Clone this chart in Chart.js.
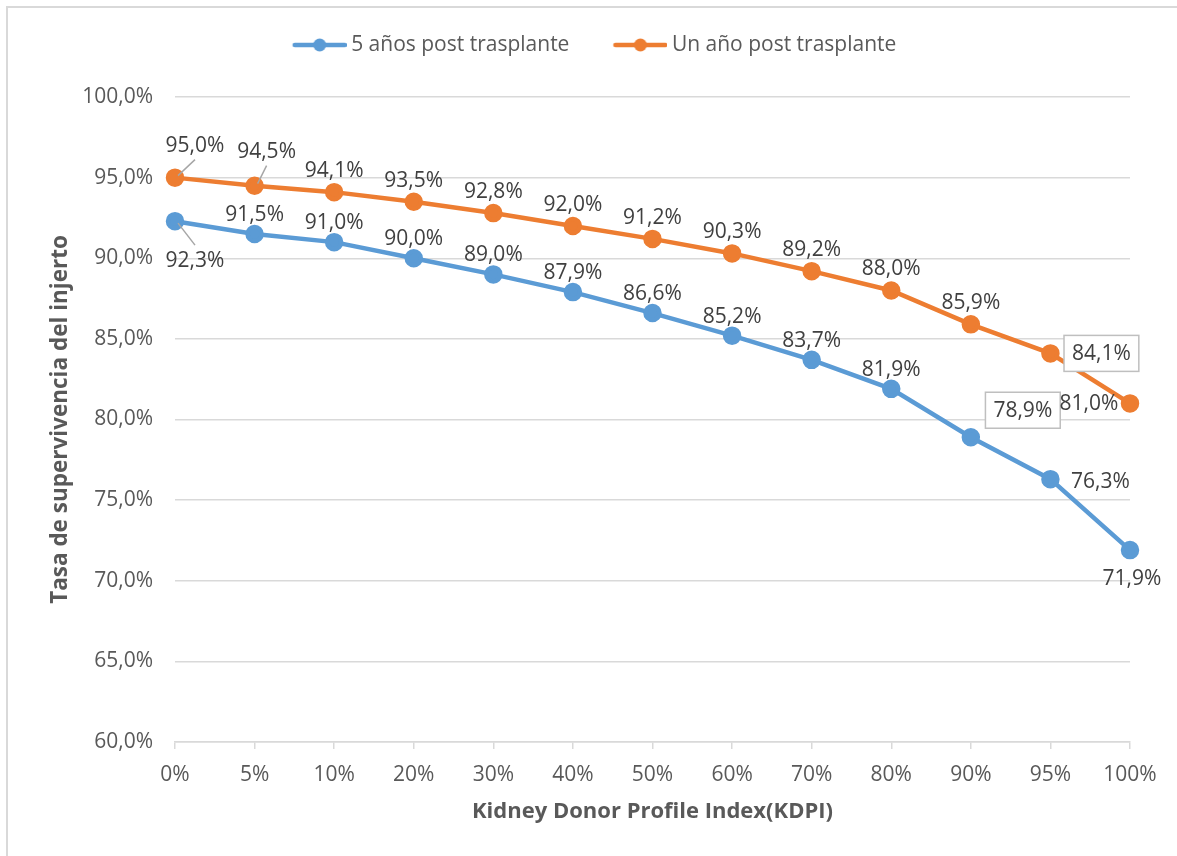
<!DOCTYPE html>
<html>
<head>
<meta charset="utf-8">
<script src="https://cdn.jsdelivr.net/npm/chart.js@4.4.1/dist/chart.umd.min.js"></script>
<style>
  html, body { margin: 0; padding: 0; background: #fff; }
  .frame { position: absolute; left: 6px; top: 6px; width: 1300px; height: 1000px;
           border-left: 2px solid #d9d9d9; border-top: 2px solid #d9d9d9; }
  .wrap { position: absolute; left: 0; top: 0; width: 1177px; height: 856px; }
</style>
</head>
<body>
<div class="frame"></div>
<div class="wrap"><canvas id="kdpiChart"></canvas></div>
<script>
const kdpiLabels = ['0%', '5%', '10%', '20%', '30%', '40%', '50%', '60%', '70%', '80%', '90%', '95%', '100%'];
const fiveYears = [92.3, 91.5, 91.0, 90.0, 89.0, 87.9, 86.6, 85.2, 83.7, 81.9, 78.9, 76.3, 71.9];
const oneYear = [95.0, 94.5, 94.1, 93.5, 92.8, 92.0, 91.2, 90.3, 89.2, 88.0, 85.9, 84.1, 81.0];
const yTicks = [60, 65, 70, 75, 80, 85, 90, 95, 100];

const BLUE = '#5b9bd5';
const ORANGE = '#ed7d31';
const FONT = '"Open Sans", "Liberation Sans", sans-serif';

function pct(v) {
  return v.toFixed(1).replace('.', ',') + '%';
}

// where each data label sits, relative to its point
// [dx, dy, boxed, leader]
const labelPlace = [
  { def: [0, -20], 0: [20, 39, false, true], 10: [52, -27, true], 11: [50, 2], 12: [2, 28] },
  { def: [0, -22], 0: [20, -33, false, true], 1: [12, -35, false, true], 11: [51, 0, true], 12: [-41, 0] }
];

// legend marker: line with a dot; wider than its box so it runs close to the text
function legendIcon(color) {
  const c = document.createElement('canvas');
  c.width = 74; c.height = 16;
  const g = c.getContext('2d');
  g.strokeStyle = color;
  g.lineWidth = 4.5;
  g.lineCap = 'round';
  g.beginPath(); g.moveTo(22, 8); g.lineTo(72, 8); g.stroke();
  g.fillStyle = color;
  g.beginPath(); g.arc(47, 8, 6.5, 0, Math.PI * 2); g.fill();
  return c;
}

const dataLabels = {
  id: 'dataLabels',
  afterDatasetsDraw(chart) {
    const ctx = chart.ctx;
    ctx.save();
    ctx.font = '21px ' + FONT;
    ctx.textAlign = 'center';
    ctx.textBaseline = 'middle';
    chart.data.datasets.forEach((ds, di) => {
      const meta = chart.getDatasetMeta(di);
      const place = labelPlace[di];
      meta.data.forEach((pt, i) => {
        const p = place[i] || place.def;
        const x = pt.x + p[0];
        const y = pt.y + p[1];
        const txt = pct(ds.data[i]);
        if (p[2]) {
          const w = ctx.measureText(txt).width + 16;
          ctx.fillStyle = '#fff';
          ctx.fillRect(x - w / 2, y - 18, w, 36);
          ctx.strokeStyle = '#bfbfbf';
          ctx.lineWidth = 1.5;
          ctx.strokeRect(x - w / 2, y - 18, w, 36);
        }
        if (p[3]) {
          ctx.strokeStyle = '#a6a6a6';
          ctx.lineWidth = 1.5;
          ctx.beginPath();
          ctx.moveTo(pt.x + 3, pt.y + (p[1] > 0 ? 2 : -2));
          ctx.lineTo(x, y + (p[1] > 0 ? -15 : 15));
          ctx.stroke();
        }
        ctx.fillStyle = '#404040';
        ctx.fillText(txt, x, y + 1);
      });
    });
    ctx.restore();
  }
};

const ctx = document.getElementById('kdpiChart').getContext('2d');
const chart = new Chart(ctx, {
  type: 'line',
  data: {
    labels: kdpiLabels,
    datasets: [
      {
        label: '5 años post trasplante',
        data: fiveYears,
        borderColor: BLUE,
        backgroundColor: BLUE,
        borderWidth: 4.5,
        pointRadius: 7,
        pointHoverRadius: 7,
        pointStyle: 'circle',
        fill: false,
        tension: 0
      },
      {
        label: 'Un año post trasplante',
        data: oneYear,
        borderColor: ORANGE,
        backgroundColor: ORANGE,
        borderWidth: 4.5,
        pointRadius: 7,
        pointHoverRadius: 7,
        pointStyle: 'circle',
        fill: false,
        tension: 0
      }
    ]
  },
  options: {
    responsive: true,
    maintainAspectRatio: false,
    animation: false,
    layout: { padding: { left: 45, right: 47, top: 4.5, bottom: 27 } },
    plugins: {
      tooltip: { enabled: false },
      // empty title used as a spacer between legend and plot
      title: {
        display: true,
        text: '',
        weight: 0,
        font: { size: 1.5, lineHeight: 1 },
        padding: { top: 15, bottom: 15 }
      },
      legend: {
        position: 'top',
        labels: {
          usePointStyle: true,
          pointStyleWidth: 62,
          padding: 30,
          color: '#595959',
          font: { family: FONT, size: 21 },
          generateLabels(ch) {
            return ch.data.datasets.map((ds, i) => ({
              text: ds.label,
              pointStyle: legendIcon(ds.borderColor),
              fillStyle: ds.borderColor,
              strokeStyle: ds.borderColor,
              fontColor: '#595959',
              lineWidth: 0,
              hidden: false,
              datasetIndex: i
            }));
          }
        }
      }
    },
    scales: {
      x: {
        offset: false,
        afterFit(scale) { scale.height = 87; },
        grid: { drawOnChartArea: false, drawTicks: true, tickLength: 7, color: '#d9d9d9', lineWidth: 1.5 },
        border: { display: true, color: '#d9d9d9', width: 1.5 },
        ticks: { color: '#595959', font: { family: FONT, size: 21 }, padding: 13, maxRotation: 0 },
        title: {
          display: true,
          text: 'Kidney Donor Profile Index(KDPI)',
          color: '#595959',
          font: { family: FONT, size: 22, weight: 'bold' },
          padding: { top: 4, bottom: 4 }
        }
      },
      y: {
        min: yTicks[0],
        max: yTicks[yTicks.length - 1],
        afterFit(scale) { scale.width = 130; },
        afterBuildTicks(scale) { scale.ticks = yTicks.map(v => ({ value: v })); },
        grid: { color: '#d9d9d9', lineWidth: 1.5, drawTicks: false },
        border: { display: false },
        ticks: {
          color: '#595959',
          font: { family: FONT, size: 21 },
          padding: 22,
          callback: v => pct(v)
        },
        title: {
          display: true,
          text: 'Tasa de supervivencia del injerto',
          color: '#595959',
          font: { family: FONT, size: 22.5, weight: 'bold' },
          padding: { top: 2, bottom: 4 }
        }
      }
    }
  },
  plugins: [dataLabels]
});
</script>
</body>
</html>
